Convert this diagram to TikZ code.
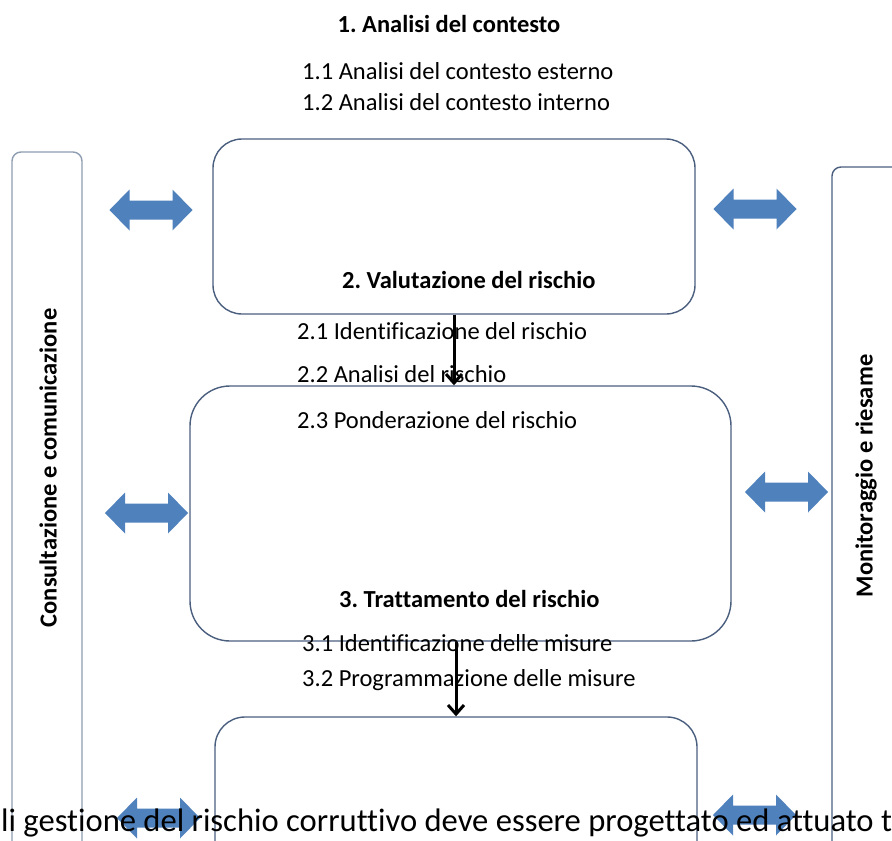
\documentclass[tikz,border=0pt]{standalone}
\usepackage{fontspec}
\setmainfont{Carlito}[Ligatures=NoCommon]
\frenchspacing
\usetikzlibrary{arrows.meta}
\definecolor{arrowblue}{HTML}{4F81BD}
\definecolor{boxline}{HTML}{4A5E7E}
\definecolor{sideline}{HTML}{8E9DB2}
\tikzset{
  bigbox/.style={draw=boxline, line width=1.4pt, inner sep=0pt},
  sidebox/.style={draw=sideline, line width=1.4pt, rounded corners=9pt},
  bodytxt/.style={inner sep=0pt, font=\fontsize{24.5}{29}\selectfont},
  titletxt/.style={inner sep=0pt, font=\fontsize{24.5}{29}\selectfont\bfseries},
  flow/.style={line width=3pt, -{Straight Barb[length=9pt,width=16pt,line width=3pt]}},
  dblarrow/.pic={\fill[arrowblue] (-41.5,0) -- (-21.5,20.5) -- (-21.5,9.5) -- (21.5,9.5) -- (21.5,20.5) -- (41.5,0) -- (21.5,-20.5) -- (21.5,-9.5) -- (-21.5,-9.5) -- (-21.5,-20.5) -- cycle;}
}
\begin{document}
\begin{tikzpicture}[x=1pt,y=-1pt]
\useasboundingbox (0,0) rectangle (892,841);
\fill[white] (0,0) rectangle (892,841);
% side panels
\draw[sidebox] (12,1000) -- (12,152) -- (82,152) -- (82,1000);
\draw[sidebox, draw=boxline] (832,1000) -- (832,167) -- (960,167);
\node[titletxt, rotate=90] (cons) at (48,468) {Consultazione e comunicazione};
\node[titletxt, rotate=90] (moni) at (866,476) {Monitoraggio e riesame};
% main boxes
\node[bigbox, rounded corners=29pt, minimum width=482pt, minimum height=175pt] (box1) at (454,226.5) {};
\node[bigbox, rounded corners=40pt, minimum width=541pt, minimum height=255pt] (box2) at (460.5,513.5) {};
\node[bigbox, rounded corners=30pt, minimum width=482pt, minimum height=260pt] (box3) at (456,847) {};
% double arrows
\pic at (151,210) {dblarrow};
\pic at (755,209) {dblarrow};
\pic at (146.5,513) {dblarrow};
\pic at (786.5,492) {dblarrow};
\pic at (158.5,818) {dblarrow};
\pic at (754.5,815) {dblarrow};
% texts
\node[titletxt, anchor=base] (t1) at (449,32) {1. Analisi del contesto};
\node[bodytxt, anchor=base west] (t11) at (302,79) {1.1 Analisi del contesto esterno};
\node[bodytxt, anchor=base west] (t12) at (302,110) {1.2 Analisi del contesto interno};
\node[titletxt, anchor=base west] (t2) at (342,288) {2. Valutazione del rischio};
\node[bodytxt, anchor=base west] (t21) at (297,339) {2.1 Identificazione del rischio};
\node[bodytxt, anchor=base west] (t22) at (297,382) {2.2 Analisi del rischio};
\node[bodytxt, anchor=base west] (t23) at (297,428) {2.3 Ponderazione del rischio};
\node[titletxt, anchor=base west] (t3) at (339,607) {3. Trattamento del rischio};
\node[bodytxt, anchor=base west] (t31) at (302,651) {3.1 Identificazione delle misure};
\node[bodytxt, anchor=base west] (t32) at (302,686) {3.2 Programmazione delle misure};
% flow arrows
\draw[flow] (box1.south) -- (box1.south |- box2.north);
\draw[flow] (box2.south -| box3.north) -- (box3.north);
% bottom overlay text
\node[inner sep=0pt, anchor=base west, font=\fontsize{32.6}{38}\selectfont] (bottom) at (1,831) {li gestione del rischio corruttivo deve essere progettato ed attuato t};
\end{tikzpicture}
\end{document}
